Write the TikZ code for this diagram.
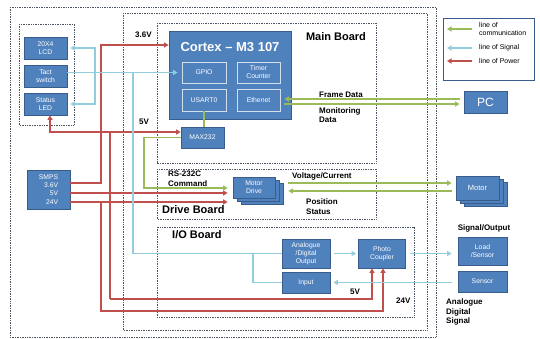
\documentclass[tikz,border=0pt]{standalone}
\usepackage{fontspec}
\setmainfont{Liberation Sans}
\usetikzlibrary{arrows.meta}
\definecolor{boxblue}{HTML}{4F81BD}
\definecolor{boxedge}{HTML}{385D8A}
\definecolor{pwr}{HTML}{C0504D}
\definecolor{comm}{HTML}{9BBB59}
\definecolor{sig}{HTML}{93CDDD}
\definecolor{dotc}{HTML}{4A5460}
\begin{document}
\begin{tikzpicture}[x=1pt,y=-1pt,
  bbox/.style={draw=boxedge, fill=boxblue, line width=0.8pt, text=white,
    font=\fontsize{6.8}{8}\selectfont, align=center, inner sep=1pt},
  ibox/.style={bbox, draw=white!75!boxblue},
  frame/.style={draw=dotc, densely dotted, line width=0.7pt},
  pline/.style={draw=pwr, line width=1.4pt},
  cline/.style={draw=comm, line width=1.4pt},
  sline/.style={draw=sig, line width=1.3pt},
  tip/.style={-{Triangle[length=4.5pt,width=5pt]}},
  tips/.style={{Triangle[length=4.5pt,width=5pt]}-{Triangle[length=4.5pt,width=5pt]}},
  lbl/.style={font=\bfseries\fontsize{8}{9.5}\selectfont, align=left, inner sep=0, anchor=west},
  ttl/.style={font=\bfseries\fontsize{11}{12}\selectfont, inner sep=0},
  leg/.style={font=\fontsize{7}{7.5}\selectfont, align=left, inner sep=0, anchor=west}]
\useasboundingbox (0,0) rectangle (540,338);

% dotted frames
\draw[frame] (10,7) rectangle (436,337);
\draw[frame] (123,13) rectangle (427,330);
\draw[frame] (157,23) rectangle (376,163);
\draw[frame] (157,169) rectangle (376,219);
\draw[frame] (157,227) rectangle (414,317);
\draw[frame] (19,24) rectangle (74,125);

% legend
\draw[draw=boxedge, line width=0.8pt, fill=white] (443,18) rectangle (534,80);
\coordinate (lg1a) at (472,29); \coordinate (lg1b) at (447,29);
\coordinate (lg2a) at (472,48); \coordinate (lg2b) at (447,48);
\coordinate (lg3a) at (472,61); \coordinate (lg3b) at (447,61);
\draw[cline,tip] (lg1a) -- (lg1b);
\draw[sline,tip] (lg2a) -- (lg2b);
\draw[pline,tip] (lg3a) -- (lg3b);
\node[leg] (lt1) at (479,29) {line of\\communication};
\node[leg] (lt2) at (479,48) {line of Signal};
\node[leg] (lt3) at (479,61) {line of Power};

% boxes
\node[bbox, minimum width=43pt, minimum height=22pt] (lcd) at (45.5,48) {20X4\\LCD};
\node[bbox, minimum width=43pt, minimum height=22pt] (tact) at (45.5,76) {Tact\\switch};
\node[bbox, minimum width=43pt, minimum height=22pt] (led) at (45.5,104) {Status\\LED};
\node[bbox, minimum width=43pt, minimum height=39pt, align=right, font=\fontsize{6.8}{8.2}\selectfont] (smps) at (48.5,189.5) {SMPS\\3.6V\\5V\\24V};

\node[bbox, minimum width=122pt, minimum height=88pt] (cortex) at (230,75) {};
\node[font=\bfseries\fontsize{13}{14}\selectfont, inner sep=0, text=white] (ctitle) at (230,47) {Cortex -- M3 107};
\node[ibox, minimum width=44pt, minimum height=21pt] (gpio) at (204,72.5) {GPIO};
\node[ibox, minimum width=43pt, minimum height=21pt] (timer) at (258.5,72.5) {Timer\\Counter};
\node[ibox, minimum width=44pt, minimum height=22pt] (usart) at (204,100) {USART0};
\node[ibox, minimum width=43pt, minimum height=22pt] (eth) at (258.5,100) {Ethenet};
\node[bbox, minimum width=43pt, minimum height=21pt] (max) at (202.5,137.5) {MAX232};

\node[bbox, minimum width=42pt, minimum height=21pt] (md3) at (262,193.5) {};
\node[bbox, minimum width=42pt, minimum height=21pt] (md2) at (258,190.5) {};
\node[bbox, minimum width=42pt, minimum height=21pt] (md) at (254,187.5) {Motor\\Drive};

\node[bbox, minimum width=43pt, minimum height=24pt] (mo3) at (485.5,194) {};
\node[bbox, minimum width=43pt, minimum height=24pt] (mo2) at (481.5,191) {};
\node[bbox, minimum width=43pt, minimum height=24pt, font=\fontsize{7.5}{8.5}\selectfont] (mo) at (477.5,188) {Motor};

\node[bbox, minimum width=43pt, minimum height=22pt, font=\fontsize{12}{13}\selectfont] (pc) at (485.5,102) {PC};

\node[bbox, minimum width=48pt, minimum height=29pt] (adout) at (306,253.5) {Analogue\\/Digital\\Output};
\node[bbox, minimum width=48pt, minimum height=21pt] (input) at (306,282.5) {Input};
\node[bbox, minimum width=47pt, minimum height=29pt] (photo) at (382,253.5) {Photo\\Coupler};
\node[bbox, minimum width=49pt, minimum height=28pt] (load) at (482.5,251) {Load\\/Sensor};
\node[bbox, minimum width=49pt, minimum height=21pt] (sensor) at (482.5,281.5) {Sensor};

% labels
\node[ttl] (mbt) at (336,37) {Main Board};
\node[ttl, anchor=west] (dbt) at (162,210) {Drive Board};
\node[ttl, anchor=west] (iot) at (172,235) {I/O Board};
\node[lbl] (l36) at (135,35) {3.6V};
\node[lbl] (l5a) at (139,122) {5V};
\node[lbl] (lfd) at (319,95) {Frame Data};
\node[lbl] (lmd) at (319,115) {Monitoring\\Data};
\node[lbl] (lrs) at (168,178.5) {RS-232C\\Command};
\node[lbl] (lvc) at (292,176) {Voltage/Current};
\node[lbl] (lps) at (306,206.5) {Position\\Status};
\node[lbl, anchor=center] (lso) at (484,228) {Signal/Output};
\node[lbl] (l5b) at (350,292) {5V};
\node[lbl] (l24) at (396,301) {24V};
\node[lbl] (lads) at (446,312) {Analogue\\Digital\\Signal};

% helper coordinates
\coordinate (mdin) at ([xshift=-5pt]md.west);
\coordinate (mdout) at ([xshift=5pt]md3.east);
\coordinate (moin) at ([xshift=-4pt]mo.west);
\coordinate (ethout) at ([xshift=4pt]eth.east);
\coordinate (pcin) at ([xshift=-4pt]pc.west);
\coordinate (gpioin) at ([xshift=-4pt]gpio.west);
\coordinate (lcdin) at ([xshift=3pt]lcd.east);
\coordinate (ledin) at ([xshift=3pt]led.east);
\coordinate (led5) at ([xshift=4.5pt]led.south);
\coordinate (ph5) at ([xshift=-10pt]photo.south);
\coordinate (ph24) at ([xshift=1pt]photo.south);
\coordinate (adoutr) at ([xshift=4pt]adout.east);
\coordinate (photol) at ([xshift=-2pt]photo.west);
\coordinate (photor) at ([xshift=4pt]photo.east);
\coordinate (loadin) at ([xshift=-6pt]load.west);
\coordinate (sensl) at ([xshift=-6pt]sensor.west);
\coordinate (inputr) at ([xshift=3pt]input.east);

% power lines
\coordinate (v36b) at (101,183); \coordinate (v36t) at (101,45);
\coordinate (y5) at (0,193);
\coordinate (v24t) at (101,202); \coordinate (v24b) at (101,311);
\coordinate (v5t) at (110,132); \coordinate (v5b) at (110,299);
\draw[pline,tip] (smps.east |- v36b) -- (v36b) -- (v36t) -- (cortex.west |- v36t);
\draw[pline] (v5t) -- (v5b);
\draw[pline,tip] (smps.east |- y5) -- (mdin |- y5);
\draw[pline,tip] (smps.east |- v24t) -- (mdin |- v24t);
\draw[pline,tip] (v24t) -- (v24b) -| (ph24);
\draw[pline,tip] (v5b) -| (ph5);
\draw[pline,tips] (led5) |- (max.west |- v5t);

% communication lines
\coordinate (g1) at (144,138); \coordinate (g2) at (144,188);
\coordinate (ey1) at (0,99); \coordinate (ey2) at (0,104);
\coordinate (my1) at (0,183); \coordinate (my2) at (0,191);
\draw[cline] (usart.south) -- (usart.south |- max.north);
\draw[cline,tip] (max.west) -- (max.west -| g1) -- (g2) -- (mdin |- g2);
\draw[cline,tip] (pcin |- ey1) -- (ethout |- ey1);
\draw[cline,tip] (ethout |- ey2) -- (pcin |- ey2);
\draw[cline,tip] (mdout |- my1) -- (moin |- my1);
\draw[cline,tip] (moin |- my2) -- (mdout |- my2);

% signal lines
\coordinate (sx) at (95,0); \coordinate (sv1) at (133,0); \coordinate (bx) at (253,0);
\draw[sline,tips] (lcdin) -- (lcdin -| sx) -- (ledin -| sx) -- (ledin);
\draw[sline,tip] (tact.east |- gpio.west) -- (gpioin);
\draw[sline] (sv1 |- gpio.west) -- (sv1 |- adout.west) -- (adout.west);
\draw[sline] (bx |- adout.west) -- (bx |- input.west) -- (input.west);
\draw[sline,tip] (adoutr) -- (photol);
\draw[sline,tip] (photor) -- (loadin |- photor);
\draw[sline,tip] (sensl |- input.east) -- (inputr);
\end{tikzpicture}
\end{document}
